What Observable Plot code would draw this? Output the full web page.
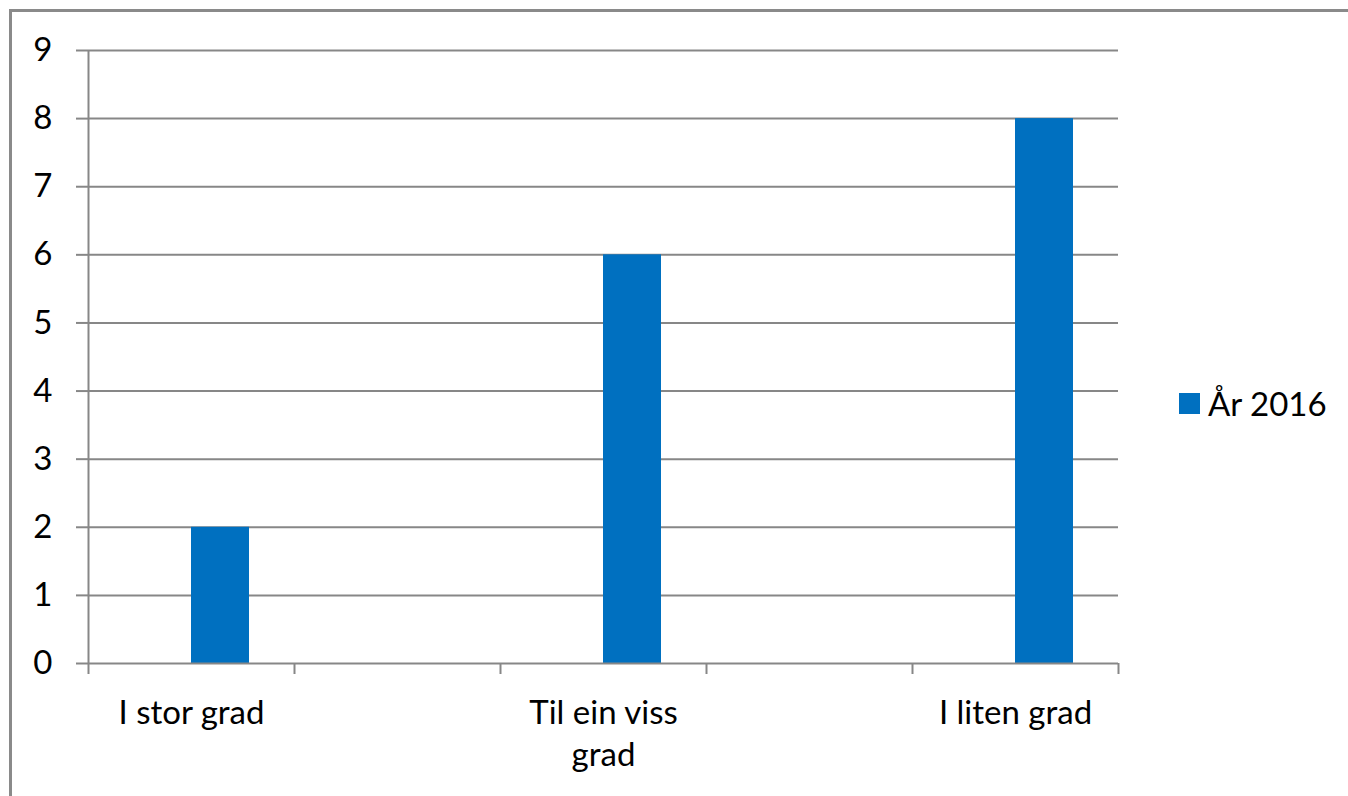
<!DOCTYPE html>
<html>
<head>
<meta charset="utf-8">
<script src="https://cdn.jsdelivr.net/npm/d3@7"></script>
<script src="https://cdn.jsdelivr.net/npm/@observablehq/plot@0.6"></script>
<style>
  html, body { margin: 0; padding: 0; background: #fff; }
  #wrap { position: relative; width: 1348px; height: 796px; overflow: hidden; font-family: Lato, sans-serif; }
  #border { position: absolute; left: 9px; top: 9px; width: 1400px; height: 900px; border-top: 3px solid #8a8a8a; border-left: 3px solid #8a8a8a; box-sizing: border-box; pointer-events: none; }
  #legend { position: absolute; left: 1179px; top: 383px; display: flex; align-items: center; font-size: 33px; color: #000; }
  #legend .sw { width: 21px; height: 21px; background: #0070C0; margin-right: 8px; }
</style>
</head>
<body>
<div id="wrap">
  <div id="chart"></div>
  <div id="border"></div>
  <div id="legend"><div class="sw"></div><span id="legendLabel"></span></div>
</div>
<script>
// Data
const categories = ["c1", "c2", "c3", "c4", "c5"];
const categoryLabels = ["I stor grad", "", "Til ein viss\ngrad", "", "I liten grad"];
const values2016 = [2, 0, 6, 0, 8];
const seriesName = "År 2016";
const yTicks = [0, 1, 2, 3, 4, 5, 6, 7, 8, 9];

const W = 1348, H = 796;
const mL = 88, mR = 230, mT = 50, mB = 133;
const bw = (W - mL - mR) / categories.length;
const barW = 58;
const gray = "#878787";
const blue = "#0070C0";

const data = categories.map((c, i) => ({cat: c, value: values2016[i]}));
const labelOf = Object.fromEntries(categories.map((c, i) => [c, categoryLabels[i]]));

const chart = Plot.plot({
  width: W,
  height: H,
  marginLeft: mL,
  marginRight: mR,
  marginTop: mT,
  marginBottom: mB,
  style: {fontFamily: "Lato, sans-serif", fontSize: "33px", background: "transparent", color: "#000", overflow: "visible"},
  x: {type: "band", domain: categories, padding: 0},
  y: {domain: [0, 9]},
  marks: [
    Plot.gridY(yTicks.filter(d => d > 0), {stroke: gray, strokeWidth: 2, strokeOpacity: 1}),
    Plot.barY(data, {x: "cat", y: "value", fill: blue, insetLeft: bw / 2, insetRight: bw - bw / 2 - barW}),
    Plot.ruleY([0], {stroke: gray, strokeWidth: 2}),
    Plot.ruleX([categories[0]], {y1: 0, y2: 9, dx: -bw / 2, stroke: gray, strokeWidth: 2}),
    Plot.axisY({ticks: yTicks, tickSize: 12, tickPadding: 24, stroke: gray, strokeWidth: 2, strokeOpacity: 1, fill: "#000", fontSize: 33, label: null}),
    Plot.axisX({ticks: categories, tickSize: 11, tickFormat: () => "", dx: -bw / 2, stroke: gray, strokeWidth: 2, strokeOpacity: 1, label: null}),
    Plot.axisX({ticks: [categories[categories.length - 1]], tickSize: 11, tickFormat: () => "", dx: bw / 2, stroke: gray, strokeWidth: 2, strokeOpacity: 1, label: null}),
    Plot.axisX({ticks: categories, tickSize: 0, tickPadding: 30, tickFormat: d => labelOf[d], fill: "#000", fontSize: 33, lineHeight: 1.29, label: null})
  ]
});
document.getElementById("chart").appendChild(chart);
document.getElementById("legendLabel").textContent = seriesName;
</script>
</body>
</html>
